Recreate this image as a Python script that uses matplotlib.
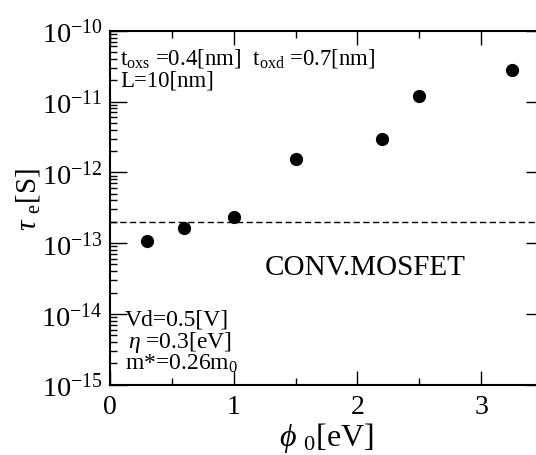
import math
import matplotlib
matplotlib.use('Agg')
import matplotlib.pyplot as plt
from matplotlib.ticker import FixedLocator, FuncFormatter, NullFormatter, LogLocator

# ---- data ----
phi0 = [0.3, 0.6, 1.0, 1.5, 2.2, 2.5, 3.25]
tau_e = [1.06e-13, 1.62e-13, 2.3e-13, 1.55e-12, 3.0e-12, 1.18e-11, 2.75e-11]
conv_mosfet = 2.0e-13
ytick_exps = [-15, -14, -13, -12, -11, -10]
xticks = [0, 1, 2, 3]
xminor = [0.5, 1.5, 2.5, 3.5]

plt.rcParams['font.family'] = ['Liberation Serif', 'DejaVu Serif']
plt.rcParams['mathtext.fontset'] = 'custom'
plt.rcParams['mathtext.rm'] = 'Liberation Serif'
plt.rcParams['mathtext.it'] = 'Liberation Serif:italic'
plt.rcParams['mathtext.bf'] = 'Liberation Serif:bold'

fig = plt.figure(figsize=(5.36, 4.56), dpi=100)
ax = fig.add_axes([110/536, 1-385.7/456, 433/536, 354/456])

ax.semilogy(phi0, tau_e, 'o', color='black', ms=8.5, zorder=3)
ax.axhline(conv_mosfet, color='black', lw=1.0, ls=(0, (4.5, 2.5)))

ax.set_xlim(0, 3.5)
ax.set_ylim(1e-15, 1e-10)

for s in ax.spines.values():
    s.set_linewidth(1.5)

ax.yaxis.set_major_locator(FixedLocator([10.0**e for e in ytick_exps]))
ax.yaxis.set_major_formatter(FuncFormatter(lambda v, p: r'$10^{%d}$' % round(math.log10(v))))
ax.yaxis.set_minor_locator(LogLocator(base=10, subs=range(2, 10), numticks=20))
ax.yaxis.set_minor_formatter(NullFormatter())
ax.xaxis.set_major_locator(FixedLocator(xticks))
ax.xaxis.set_minor_locator(FixedLocator(xminor))
ax.set_xticklabels([str(t) for t in xticks])

ax.tick_params(axis='y', which='major', direction='in', length=12, width=1.0,
               left=True, right=True, labelsize=20.5, pad=5)
ax.tick_params(axis='y', which='minor', direction='in', length=5, width=1.0,
               left=True, right=False)
ax.tick_params(axis='x', which='major', direction='in', length=10, width=1.0,
               top=True, bottom=True, labelsize=20, pad=6.5)
ax.tick_params(axis='x', which='minor', direction='in', length=5, width=1.0,
               top=True, bottom=True)

ax.set_ylabel(r'$\tau$ $_{\rm e}$[S]', fontsize=21)
ax.yaxis.set_label_coords(-0.157, 0.525)
ax.set_xlabel(r'$\phi$ $_{\rm 0}$[eV]', fontsize=23)
ax.xaxis.set_label_coords(0.5, -0.1)

ax.text(0.023, 0.906, r't$_{\rm oxs}$ =0.4[nm]  t$_{\rm oxd}$ =0.7[nm]',
        transform=ax.transAxes, fontsize=16.5, va='baseline', ha='left')
ax.text(0.023, 0.844, 'L=10[nm]', transform=ax.transAxes, fontsize=16.5,
        va='baseline', ha='left')
ax.text(0.358, 0.312, 'CONV.MOSFET', transform=ax.transAxes, fontsize=21,
        va='baseline', ha='left')
ax.text(0.035, 0.169, 'Vd=0.5[V]', transform=ax.transAxes, fontsize=17,
        va='baseline', ha='left')
ax.text(0.042, 0.106, r'$\eta$ =0.3[eV]', transform=ax.transAxes, fontsize=17,
        va='baseline', ha='left')
ax.text(0.035, 0.0444, r'm*=0.26m$_{\rm 0}$', transform=ax.transAxes, fontsize=17,
        va='baseline', ha='left')

fig.savefig('out.png', dpi=100)
